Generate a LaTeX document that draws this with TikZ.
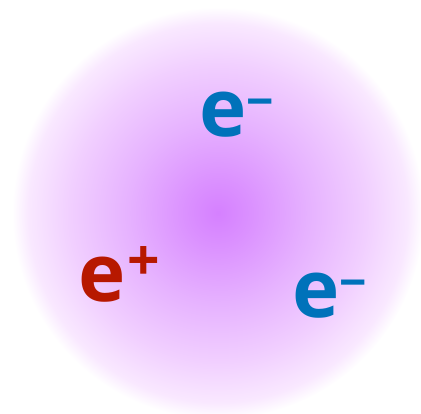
\documentclass[tikz,border=0pt]{standalone}
\usepackage{fontspec}
\setmainfont{Open Sans}
\definecolor{glowc}{RGB}{213,128,255}
\definecolor{glowb}{RGB}{219,145,255}
\definecolor{glowm}{RGB}{230,178,255}
\definecolor{glowl}{RGB}{241,207,255}
\definecolor{glowe}{RGB}{249,232,255}
\definecolor{eblue}{RGB}{0,114,186}
\definecolor{ered}{RGB}{183,24,0}
\pgfdeclareradialshading{glow}{\pgfpoint{0bp}{0bp}}{%
  color(0bp)=(glowc);
  color(4bp)=(glowb);
  color(11bp)=(glowm);
  color(18bp)=(glowl);
  color(23bp)=(glowe);
  color(25bp)=(white);
  color(50bp)=(white)}
\tikzset{
  particle/.style={inner sep=0pt, anchor=base west, font=\bfseries\fontsize{80pt}{80pt}\selectfont},
}
\newcommand{\supminus}{\raisebox{18pt}{\fontsize{48pt}{48pt}\selectfont −}}
\newcommand{\supplus}{\kern2pt\raisebox{21pt}{\fontsize{57pt}{57pt}\selectfont +}}
\begin{document}
\begin{tikzpicture}[x=1pt,y=-1pt]
\useasboundingbox (0,0) rectangle (421,413);
\shade[shading=glow] (218,213) circle (206);
\node[particle, text=eblue] (etop) at (199,136) {e\supminus};
\node[particle, text=ered] (epos) at (78,301) {e\supplus};
\node[particle, text=eblue] (eright) at (292,317) {e\supminus};
\end{tikzpicture}
\end{document}
